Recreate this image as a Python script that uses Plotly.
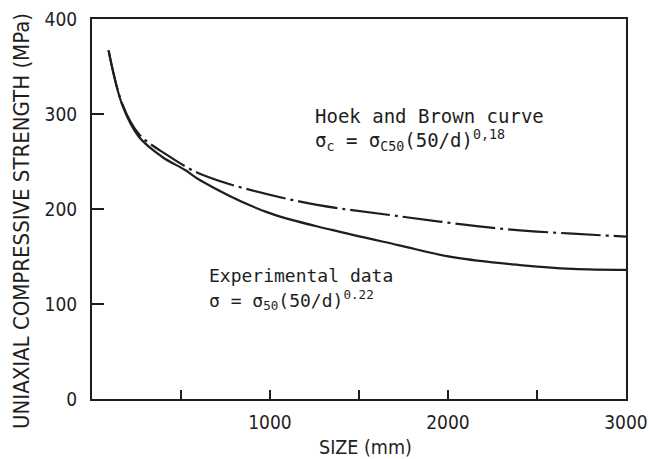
import plotly.graph_objects as go

# Data
solid_d = [93, 171, 263, 393, 523, 610, 978, 1347, 1720, 2035, 2404, 2700, 3000]
solid_s = [367, 309, 276, 255, 241, 230, 197, 178, 162, 149, 141, 137, 136]

hb_d = [93, 171, 263, 421, 620, 1163, 1700, 2313, 2700, 3000]
hb_s = [367, 310, 279, 257, 236, 208, 193, 179, 174, 171]

x_tickvals = [500, 1000, 1500, 2000, 2500, 3000]
x_ticktext = ["", "1000", "", "2000", "", "3000"]
y_tickvals = [0, 100, 200, 300, 400]
y_ticktext = ["0", "100", "200", "300", "400"]

W, H = 649, 459
L, R, T, B = 92, 23, 19, 60
INK = "#1e1e1e"
COND = "DejaVu Sans Condensed, Liberation Sans Narrow, sans-serif"
MONO = "DejaVu Sans Mono, Liberation Mono, monospace"


def px(x):
    return (x - L) / (W - L - R)


def py(y):
    return (H - B - y) / (H - T - B)


fig = go.Figure()
fig.add_trace(go.Scatter(x=solid_d, y=solid_s, mode="lines",
                         line=dict(color=INK, width=2.2, shape="spline"),
                         showlegend=False, hoverinfo="skip"))
fig.add_trace(go.Scatter(x=hb_d, y=hb_s, mode="lines",
                         line=dict(color=INK, width=2.2, shape="spline",
                                   dash="40px,5px,3px,5px"),
                         showlegend=False, hoverinfo="skip"))

ann = [
    ("Hoek and Brown curve", 313, 116, 19),
    ("σ<sub>c</sub> = σ<sub>C50</sub>(50/d)<sup>0,18</sup>", 313, 140, 19),
    ("Experimental data", 207, 275, 18),
    ("σ = σ<sub>50</sub>(50/d)<sup>0.22</sup>", 207, 300, 18),
]
for text, x, y, s in ann:
    fig.add_annotation(text=text, xref="paper", yref="paper", x=px(x), y=py(y),
                       xanchor="left", yanchor="middle", showarrow=False,
                       font=dict(family=MONO, size=s, color=INK))

fig.add_annotation(text="UNIAXIAL COMPRESSIVE STRENGTH (MPa)", xref="paper", yref="paper",
                   x=px(21), y=py(221), xanchor="center", yanchor="middle",
                   textangle=-90, showarrow=False,
                   font=dict(family=COND, size=22, color=INK))
fig.add_annotation(text="SIZE (mm)", xref="paper", yref="paper",
                   x=px(365), y=py(447), xanchor="center", yanchor="middle",
                   showarrow=False, font=dict(family=COND, size=19.5, color=INK))

fig.update_xaxes(range=[0, 3000], tickmode="array", tickvals=x_tickvals, ticktext=x_ticktext,
                 ticks="inside", ticklen=9, tickwidth=2, tickcolor=INK,
                 showline=True, linewidth=2, linecolor=INK, mirror=True,
                 showgrid=False, zeroline=False, automargin=False,
                 ticklabeloverflow="allow", ticklabelstandoff=5,
                 tickfont=dict(family=COND, size=19, color=INK))
fig.update_yaxes(range=[0, 400], tickmode="array", tickvals=y_tickvals, ticktext=y_ticktext,
                 ticks="inside", ticklen=12, tickwidth=2, tickcolor=INK,
                 showline=True, linewidth=2, linecolor=INK, mirror=True,
                 showgrid=False, zeroline=False, ticklabelstandoff=9, automargin=False,
                 ticklabeloverflow="allow",
                 tickfont=dict(family=COND, size=19, color=INK))

fig.update_layout(width=W, height=H, margin=dict(l=L, r=R, t=T, b=B, autoexpand=False),
                  paper_bgcolor="white", plot_bgcolor="white")

fig.write_html("out.html", config={"displayModeBar": False},
               post_script="document.body.style.margin='0';document.body.style.overflow='hidden';")
